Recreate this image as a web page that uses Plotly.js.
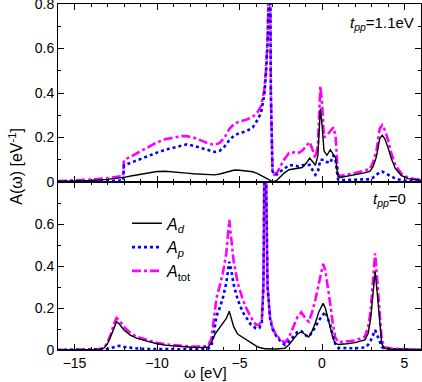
<!DOCTYPE html>
<html>
<head>
<meta charset="utf-8">
<script src="https://cdn.plot.ly/plotly-3.0.1.min.js"></script>
<style>
  html, body { margin: 0; padding: 0; background: #fff; }
  #graph { width: 422px; height: 382px; }
</style>
</head>
<body>
<div id="graph"></div>
<script>
// top panel, t_pp = 1.1 eV
const omegaTop = [-16, -15, -14, -13, -12.2, -12.05, -12.0, -11.5, -11, -10.5, -10, -9.5, -9, -8.5, -8.2, -7.8, -7.3, -6.8, -6.5, -6.2, -5.9, -5.6, -5.3, -5.0, -4.6, -4.2, -3.9, -3.7, -3.5, -3.4, -3.3, -3.22, -3.15, -3.1, -3.05, -3.0, -2.9, -2.7, -2.5, -2.3, -2.0, -1.7, -1.45, -1.2, -0.95, -0.75, -0.55, -0.4, -0.25, -0.1, 0.0, 0.12, 0.3, 0.5, 0.68, 0.82, 0.9, 0.97, 1.1, 1.5, 2.0, 2.5, 2.9, 3.1, 3.3, 3.5, 3.65, 3.8, 4.0, 4.2, 4.45, 4.8, 5.2, 5.6, 6.0];
const dTop = [0.002, 0.004, 0.007, 0.012, 0.018, 0.02, 0.021, 0.028, 0.035, 0.042, 0.047, 0.048, 0.046, 0.042, 0.04, 0.037, 0.034, 0.031, 0.032, 0.036, 0.042, 0.05, 0.054, 0.053, 0.049, 0.046, 0.038, 0.03, 0.022, 0.018, 0.014, 0.01, 0.007, 0.005, 0.003, 0.002, 0.002, 0.01, 0.025, 0.04, 0.055, 0.058, 0.06, 0.065, 0.085, 0.107, 0.09, 0.075, 0.12, 0.33, 0.26, 0.14, 0.12, 0.145, 0.125, 0.11, 0.06, 0.025, 0.02, 0.025, 0.032, 0.04, 0.048, 0.07, 0.114, 0.195, 0.21, 0.195, 0.155, 0.105, 0.06, 0.03, 0.015, 0.01, 0.008];
const pTop = [0.002, 0.002, 0.003, 0.004, 0.006, 0.007, 0.075, 0.09, 0.105, 0.12, 0.132, 0.145, 0.155, 0.165, 0.169, 0.163, 0.152, 0.14, 0.135, 0.14, 0.16, 0.19, 0.21, 0.22, 0.228, 0.245, 0.28, 0.31, 0.39, 0.48, 0.62, 0.85, 1.1, 0.4, 0.12, 0.05, 0.032, 0.035, 0.048, 0.06, 0.075, 0.075, 0.07, 0.075, 0.078, 0.077, 0.05, 0.032, 0.045, 0.1, 0.1, 0.1, 0.09, 0.085, 0.12, 0.1, 0.05, 0.012, 0.008, 0.008, 0.01, 0.012, 0.012, 0.02, 0.03, 0.044, 0.047, 0.042, 0.035, 0.025, 0.015, 0.008, 0.005, 0.003, 0.002];
const totTop = [0.004, 0.007, 0.011, 0.017, 0.025, 0.027, 0.098, 0.118, 0.14, 0.16, 0.178, 0.192, 0.2, 0.206, 0.206, 0.2, 0.186, 0.171, 0.167, 0.176, 0.2, 0.24, 0.262, 0.272, 0.28, 0.292, 0.315, 0.34, 0.41, 0.5, 0.64, 0.9, 1.1, 0.4, 0.12, 0.052, 0.034, 0.045, 0.073, 0.1, 0.13, 0.133, 0.13, 0.14, 0.163, 0.18, 0.14, 0.108, 0.165, 0.43, 0.36, 0.2, 0.21, 0.23, 0.245, 0.21, 0.11, 0.035, 0.027, 0.032, 0.04, 0.05, 0.058, 0.09, 0.14, 0.24, 0.255, 0.235, 0.19, 0.13, 0.075, 0.038, 0.02, 0.013, 0.01];

// bottom panel, t_pp = 0
const omegaBot = [-16, -14, -13.5, -13.2, -13.0, -12.8, -12.6, -12.45, -12.3, -12.0, -11.6, -11.2, -10.5, -10, -9.4, -8.5, -7.9, -7.2, -6.9, -6.7, -6.55, -6.4, -6.2, -6.0, -5.8, -5.62, -5.5, -5.35, -5.1, -4.8, -4.58, -4.3, -4.0, -3.8, -3.65, -3.55, -3.48, -3.4, -3.3, -3.15, -3.0, -2.8, -2.5, -2.25, -2.0, -1.75, -1.5, -1.25, -1.0, -0.8, -0.6, -0.4, -0.2, 0.07, 0.2, 0.4, 0.5, 0.65, 0.8, 1.0, 1.5, 2.0, 2.6, 2.8, 2.95, 3.1, 3.22, 3.35, 3.5, 3.62, 3.8, 4.2, 5.0, 6.0];
const dBot = [0, 0.001, 0.003, 0.01, 0.03, 0.065, 0.11, 0.135, 0.125, 0.095, 0.07, 0.055, 0.04, 0.03, 0.022, 0.016, 0.013, 0.012, 0.015, 0.035, 0.065, 0.085, 0.105, 0.128, 0.15, 0.185, 0.15, 0.11, 0.075, 0.06, 0.05, 0.032, 0.02, 0.012, 0.008, 0.007, 0.006, 0.006, 0.005, 0.005, 0.005, 0.005, 0.006, 0.008, 0.025, 0.05, 0.075, 0.087, 0.075, 0.062, 0.09, 0.13, 0.18, 0.222, 0.2, 0.14, 0.11, 0.06, 0.032, 0.026, 0.03, 0.035, 0.048, 0.08, 0.15, 0.28, 0.373, 0.27, 0.127, 0.03, 0.008, 0.004, 0.002, 0.001];
const pBot = [0, 0, 0.001, 0.002, 0.005, 0.01, 0.016, 0.02, 0.02, 0.015, 0.01, 0.007, 0.005, 0.004, 0.003, 0.003, 0.003, 0.004, 0.006, 0.02, 0.08, 0.16, 0.2, 0.25, 0.32, 0.42, 0.38, 0.31, 0.238, 0.18, 0.151, 0.12, 0.103, 0.105, 0.13, 0.3, 1.0, 0.9, 0.3, 0.15, 0.1, 0.07, 0.04, 0.025, 0.04, 0.065, 0.085, 0.09, 0.07, 0.062, 0.085, 0.11, 0.14, 0.17, 0.182, 0.14, 0.12, 0.07, 0.03, 0.01, 0.008, 0.008, 0.012, 0.025, 0.045, 0.075, 0.095, 0.07, 0.04, 0.015, 0.005, 0.003, 0.002, 0.001];
const totBot = [0, 0.001, 0.004, 0.012, 0.035, 0.075, 0.126, 0.152, 0.143, 0.11, 0.08, 0.062, 0.045, 0.034, 0.026, 0.019, 0.016, 0.016, 0.021, 0.055, 0.145, 0.245, 0.305, 0.37, 0.46, 0.62, 0.53, 0.42, 0.317, 0.24, 0.198, 0.155, 0.12, 0.12, 0.14, 0.31, 1.0, 0.9, 0.3, 0.16, 0.105, 0.075, 0.048, 0.035, 0.06, 0.11, 0.155, 0.18, 0.15, 0.135, 0.18, 0.24, 0.32, 0.41, 0.38, 0.28, 0.22, 0.13, 0.06, 0.037, 0.04, 0.045, 0.063, 0.11, 0.19, 0.36, 0.46, 0.33, 0.16, 0.048, 0.013, 0.007, 0.004, 0.002];

const xTicks = [-15, -10, -5, 0, 5];
const yTicksTop = [0, 0.2, 0.4, 0.6, 0.8];
const yTicksBot = [0, 0.2, 0.4, 0.6];

const seriesNames = ['<i>A</i><sub><i>d</i></sub>', '<i>A</i><sub><i>p</i></sub>', '<i>A</i><sub>tot</sub>'];
const seriesLines = [
    { color: '#000000', width: 1.4, dash: 'solid' },
    { color: '#0000ff', width: 2.6, dash: 'dot' },
    { color: '#ff00ff', width: 2.6, dash: 'dashdot' }
];

const FONT = 'Liberation Sans, Arial, sans-serif';

function makeTraces(omega, series, xa, ya, legend) {
    return series.map((vals, i) => ({
        x: omega,
        y: vals,
        xaxis: xa,
        yaxis: ya,
        type: 'scatter',
        mode: 'lines',
        name: seriesNames[i],
        showlegend: legend,
        line: seriesLines[i]
    }));
}

// black curve drawn last so it sits on top
function order(tr) { return [tr[2], tr[1], tr[0]]; }

const traces = [].concat(
    order(makeTraces(omegaTop, [dTop, pTop, totTop], 'x2', 'y2', false)),
    order(makeTraces(omegaBot, [dBot, pBot, totBot], 'x', 'y', true))
);

const split = 168 / 346;

function xAxis(extra) {
    return Object.assign({
        range: [-16, 6],
        tickmode: 'array',
        tickvals: xTicks,
        ticks: 'inside',
        ticklen: 6,
        tickcolor: '#000',
        mirror: 'allticks',
        showline: true,
        linecolor: '#000',
        linewidth: 1,
        showgrid: false,
        zeroline: false,
        minor: { tickmode: 'linear', tick0: 0, dtick: 1, ticklen: 3, ticks: 'inside', tickcolor: '#000' },
        tickfont: { family: FONT, size: 14, color: '#000' }
    }, extra);
}

function yAxis(vals, extra) {
    return Object.assign({
        range: [0, 0.8],
        tickmode: 'array',
        tickvals: vals,
        ticktext: vals.map(v => v === 0 ? '0' : v.toFixed(1)),
        ticks: 'inside',
        ticklen: 6,
        tickcolor: '#000',
        mirror: 'allticks',
        showline: true,
        linecolor: '#000',
        linewidth: 1,
        showgrid: false,
        zeroline: false,
        ticklabeloverflow: 'allow',
        minor: { tickmode: 'linear', tick0: 0, dtick: 0.1, ticklen: 3, ticks: 'inside', tickcolor: '#000' },
        tickfont: { family: FONT, size: 14, color: '#000' }
    }, extra);
}

const layout = {
    width: 422,
    height: 382,
    margin: { l: 58, r: 1, t: 4, b: 32 },
    paper_bgcolor: '#fff',
    plot_bgcolor: '#fff',
    font: { family: FONT, color: '#000' },
    xaxis: xAxis({ anchor: 'y' }),
    xaxis2: xAxis({ anchor: 'y2', matches: 'x', showticklabels: false }),
    yaxis: yAxis(yTicksBot, { domain: [0, split], anchor: 'x' }),
    yaxis2: yAxis(yTicksTop, { domain: [split, 1], anchor: 'x2' }),
    showlegend: true,
    legend: {
        x: 0.19, y: 0.415, xanchor: 'left', yanchor: 'top',
        bgcolor: 'rgba(0,0,0,0)',
        font: { family: FONT, size: 16, color: '#000' },
        tracegroupgap: 0,
        traceorder: 'reversed'
    },
    annotations: [
        { xref: 'paper', yref: 'paper', x: 0.985, y: 0.945, xanchor: 'right', yanchor: 'middle', showarrow: false,
          text: '<i>t</i><sub><i>pp</i></sub>=1.1eV', font: { family: FONT, size: 15 } },
        { xref: 'paper', yref: 'paper', x: 0.965, y: 0.435, xanchor: 'right', yanchor: 'middle', showarrow: false,
          text: '<i>t</i><sub><i>pp</i></sub>=0', font: { family: FONT, size: 15 } },
        { xref: 'paper', yref: 'paper', x: -0.118, y: 0.53, xanchor: 'center', yanchor: 'middle', showarrow: false,
          textangle: -90, text: 'A(ω) [eV<sup>-1</sup>]', font: { family: FONT, size: 16 } },
        { xref: 'paper', yref: 'paper', x: 0.405, y: -0.066, xanchor: 'center', yanchor: 'middle', showarrow: false,
          text: 'ω [eV]', font: { family: FONT, size: 15 } }
    ]
};

Plotly.newPlot('graph', traces, layout, { displayModeBar: false, staticPlot: true });
</script>
</body>
</html>
